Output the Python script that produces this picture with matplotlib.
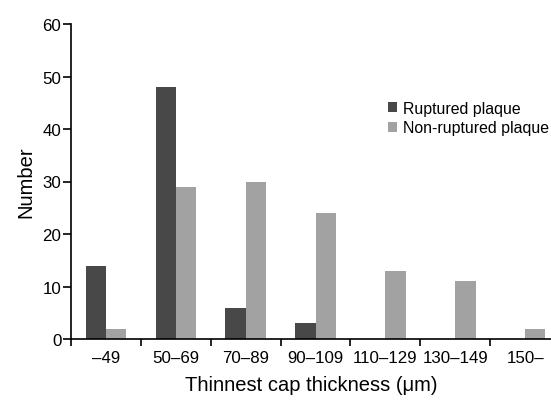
import matplotlib
matplotlib.use("Agg")
import matplotlib.pyplot as plt
import numpy as np

categories = ["\u201349", "50\u201369", "70\u201389", "90\u2013109", "110\u2013129", "130\u2013149", "150\u2013"]
ruptured = [14, 48, 6, 3, 0, 0, 0]
non_ruptured = [2, 29, 30, 24, 13, 11, 2]
y_ticks = [0, 10, 20, 30, 40, 50, 60]

plt.rcParams['font.family'] = ['Liberation Sans', 'DejaVu Sans']

fig = plt.figure(figsize=(5.51, 4.02), dpi=100)
ax = fig.add_axes([71/551, 62/402, 1 - 71/551, 315/402])

x = np.arange(len(categories))
w = 0.29
ax.bar(x - w/2, ruptured, width=w, color="#484848", label="Ruptured plaque")
ax.bar(x + w/2, non_ruptured, width=w, color="#a2a2a2", label="Non-ruptured plaque")

ax.set_xlim(-0.5, 6.37)
ax.set_ylim(0, 60)
ax.set_yticks(y_ticks)
ax.tick_params(axis='y', direction='out', length=6, width=1.2, labelsize=12.2, pad=1)
ax.set_xticks(np.arange(-0.5, 6.5, 1.0))
ax.set_xticklabels([])
ax.set_xticks(x, minor=True)
ax.set_xticklabels(categories, minor=True, fontsize=12.2)
ax.tick_params(axis='x', which='major', direction='out', length=5, width=1.2)
ax.tick_params(axis='x', which='minor', length=0, pad=8)

for s in ['top', 'right']:
    ax.spines[s].set_visible(False)
for s in ['left', 'bottom']:
    ax.spines[s].set_linewidth(1.2)

ax.set_ylabel("Number", fontsize=14.5, labelpad=5)
ax.set_xlabel("Thinnest cap thickness (\u03bcm)", fontsize=14.5, labelpad=7)

leg = ax.legend(loc='upper left', bbox_to_anchor=(0.66, 0.757), frameon=False,
                fontsize=11.4, handlelength=0.6, handleheight=0.6, handletextpad=0.35,
                labelspacing=0.3, borderaxespad=0, borderpad=0)

fig.savefig("out.png", dpi=100)
